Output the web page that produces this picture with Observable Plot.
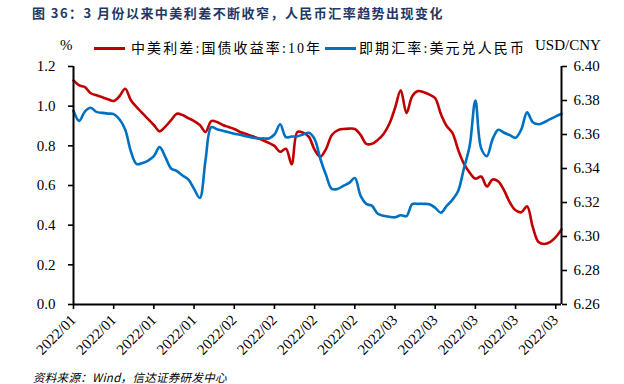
<!DOCTYPE html>
<html>
<head>
<meta charset="utf-8">
<script src="https://cdn.jsdelivr.net/npm/d3@7"></script>
<script src="https://cdn.jsdelivr.net/npm/@observablehq/plot@0.6"></script>
<style>
  html, body { margin: 0; padding: 0; background: #fff; overflow: hidden; }
  #wrap { position: relative; width: 624px; height: 384px; }
  #chart { position: absolute; left: 0; top: 0; }
  .title { position: absolute; left: 32px; top: 3px; font-family: "Noto Sans CJK SC", sans-serif; font-weight: bold; font-size: 13px; letter-spacing: 1.45px; color: #1f3864; white-space: nowrap; }
  .lg { position: absolute; top: 37px; font-family: "Liberation Serif", "Noto Sans CJK SC", serif; font-size: 14px; white-space: nowrap; color: #000; letter-spacing: 2.1px; }
  .sw { position: absolute; height: 3px; top: 47px; }
  .unit { position: absolute; top: 37px; font-family: "Liberation Serif", serif; font-size: 15px; color: #000; }
  .foot { position: absolute; left: 33px; top: 371px; line-height: 12px; font-family: "Noto Sans CJK SC", sans-serif; font-style: italic; font-size: 11.5px; color: #000; white-space: nowrap; letter-spacing: 0.3px; }
</style>
</head>
<body>
<div id="wrap">
  <div id="chart"></div>
</div>
<script>
// ---- data ----
const startDate = "2022-01-04";
const endDate = "2022-03-30";
const seriesNames = ["中美利差:国债收益率:10年", "即期汇率:美元兑人民币"];
const seriesColors = ["#c00000", "#0070c0"];
// 中美利差 (%), daily from 2022-01-04 to 2022-03-30
const spread = [
  1.13, 1.105, 1.096, 1.065, 1.055, 1.045, 1.035, 1.026, 1.05, 1.088,
  1.03, 0.995, 0.965, 0.935, 0.905, 0.873, 0.897, 0.93, 0.962, 0.955,
  0.94, 0.925, 0.905, 0.87, 0.925, 0.92, 0.905, 0.895, 0.885, 0.87,
  0.86, 0.85, 0.84, 0.828, 0.815, 0.80, 0.77, 0.785, 0.707, 0.87,
  0.866, 0.845, 0.78, 0.745, 0.785, 0.855, 0.878, 0.885, 0.887, 0.885,
  0.855, 0.81, 0.81, 0.83, 0.86, 0.91, 0.99, 1.08, 0.965, 1.05,
  1.076, 1.07, 1.058, 1.04, 0.96, 0.90, 0.865, 0.78, 0.71, 0.665,
  0.635, 0.645, 0.595, 0.63, 0.62, 0.575, 0.515, 0.475, 0.465, 0.495,
  0.39, 0.315, 0.305, 0.315, 0.34, 0.378
];
// 即期汇率 USD/CNY, same dates
const usdcny = [
  6.374, 6.368, 6.3736, 6.3757, 6.3733, 6.3727, 6.3723, 6.372, 6.369, 6.363,
  6.350, 6.3426, 6.3432, 6.3447, 6.3473, 6.3526, 6.3467, 6.340, 6.3385, 6.3359,
  6.3336, 6.328, 6.3227, 6.345, 6.3643, 6.3631, 6.3622, 6.3613, 6.3605, 6.3598,
  6.359, 6.3583, 6.3577, 6.3577, 6.3577, 6.360, 6.366, 6.3584, 6.3588, 6.359,
  6.360, 6.361, 6.3573, 6.3456, 6.336, 6.328, 6.328, 6.3298, 6.3315, 6.3344,
  6.324, 6.3192, 6.318, 6.3134, 6.3122, 6.3116, 6.3113, 6.3125, 6.312, 6.319,
  6.3192, 6.3192, 6.319, 6.3169, 6.314, 6.318, 6.3216, 6.3268, 6.340, 6.3532,
  6.38, 6.352, 6.3473, 6.3573, 6.3628, 6.361, 6.3596, 6.3581, 6.363, 6.373,
  6.3672, 6.366, 6.3672, 6.369, 6.3707, 6.3722
];
const leftTicks = [0, 0.2, 0.4, 0.6, 0.8, 1.0, 1.2];
const rightTicks = [6.26, 6.28, 6.30, 6.32, 6.34, 6.36, 6.38, 6.40];
const xTickStep = 7; // days between date ticks
const leftDomain = [0, 1.2];
const rightDomain = [6.26, 6.40];

// ---- build ----
const parse = d3.utcParse("%Y-%m-%d");
const d0 = parse(startDate), d1 = parse(endDate);
const dates = d3.utcDay.range(d0, d3.utcDay.offset(d1, 1));
const toLeft = v => (v - rightDomain[0]) / (rightDomain[1] - rightDomain[0]) * (leftDomain[1] - leftDomain[0]) + leftDomain[0];
const fromLeft = v => rightDomain[0] + (v - leftDomain[0]) / (leftDomain[1] - leftDomain[0]) * (rightDomain[1] - rightDomain[0]);
const redData = spread.map((v, i) => ({date: dates[i], value: v}));
const blueData = usdcny.map((v, i) => ({date: dates[i], value: toLeft(v)}));
const xTicks = dates.filter((d, i) => i % xTickStep === 0);

const plot = Plot.plot({
  width: 624,
  height: 384,
  marginLeft: 73,
  marginRight: 63,
  marginTop: 66,
  marginBottom: 80,
  x: {type: "utc", domain: [d0, d1]},
  y: {domain: leftDomain},
  style: {fontFamily: "'Liberation Serif', serif", fontSize: "15px", color: "#000", background: "transparent"},
  marks: [
    Plot.line(redData, {x: "date", y: "value", stroke: seriesColors[0], strokeWidth: 2.6, curve: "catmull-rom"}),
    Plot.line(blueData, {x: "date", y: "value", stroke: seriesColors[1], strokeWidth: 2.6, curve: "catmull-rom"}),
    Plot.axisY({anchor: "left", ticks: leftTicks, tickFormat: d => d.toFixed(1), tickSize: 5, tickPadding: 13, label: null, strokeWidth: 1.6}),
    Plot.axisY({anchor: "right", ticks: rightTicks.map(toLeft), tickFormat: d => fromLeft(d).toFixed(2), tickSize: 5, tickPadding: 7, label: null, strokeWidth: 1.6}),
    Plot.axisX({ticks: xTicks, tickFormat: d3.utcFormat("%Y/%m"), tickRotate: -45, tickSize: 5, tickPadding: 8, label: null, strokeWidth: 1.6}),
    Plot.ruleX([d0], {stroke: "#000", strokeWidth: 2}),
    Plot.ruleX([d1], {stroke: "#000", strokeWidth: 2}),
    Plot.ruleY([leftDomain[0]], {stroke: "#000", strokeWidth: 2})
  ]
});
document.getElementById("chart").appendChild(plot);

// ---- title, legend, footer ----
const wrap = document.getElementById("wrap");
function add(cls, text, style) {
  const el = document.createElement("div");
  el.className = cls;
  if (text != null) el.textContent = text;
  Object.assign(el.style, style || {});
  wrap.appendChild(el);
  return el;
}
add("title", "图 36：3 月份以来中美利差不断收窄，人民币汇率趋势出现变化");
add("unit", "%", {left: "60px"});
add("sw", null, {left: "94px", width: "31px", background: seriesColors[0]});
add("lg", seriesNames[0], {left: "131px"});
add("sw", null, {left: "325px", width: "31px", background: seriesColors[1]});
add("lg", seriesNames[1], {left: "359px"});
add("unit", "USD/CNY", {left: "535px"});
add("foot", "资料来源：Wind，信达证券研发中心");
</script>
</body>
</html>
